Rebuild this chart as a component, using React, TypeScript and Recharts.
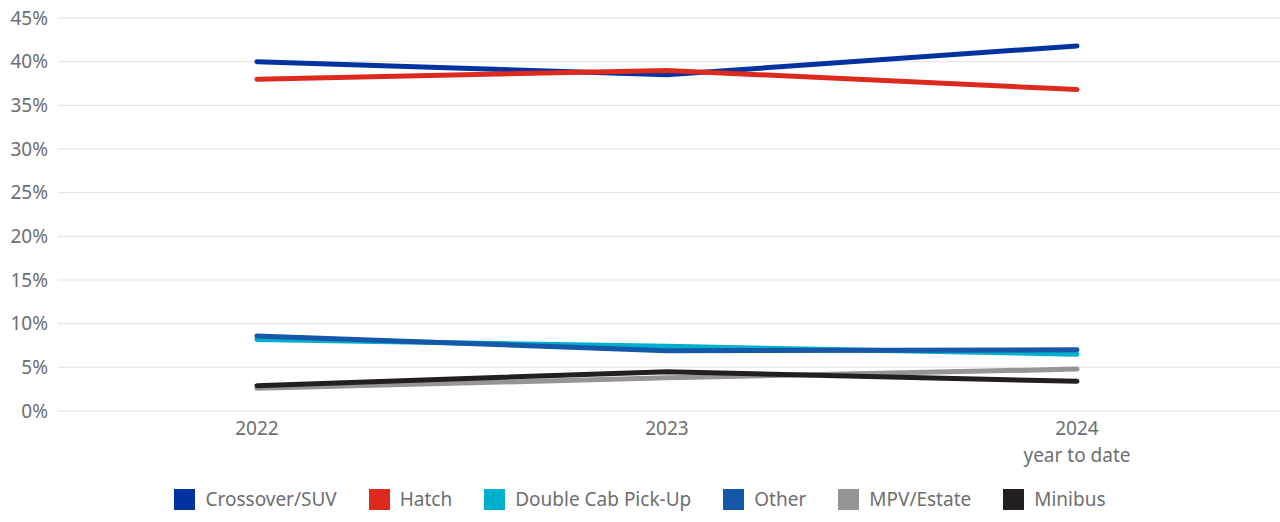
import { LineChart, Line, XAxis, YAxis, CartesianGrid, Legend } from 'recharts';

const years = ['2022', '2023', '2024\nyear to date'];
const crossover = [40.0, 38.5, 41.8];
const hatch = [38.0, 39.0, 36.8];
const doubleCab = [8.2, 7.4, 6.5];
const other = [8.6, 6.9, 7.0];
const mpv = [2.6, 3.8, 4.8];
const minibus = [2.9, 4.5, 3.4];
const yTicks = [0, 5, 10, 15, 20, 25, 30, 35, 40, 45];

const series = [
  { key: 'crossover', name: 'Crossover/SUV', color: '#0033a0' },
  { key: 'hatch', name: 'Hatch', color: '#dd2a1f' },
  { key: 'doubleCab', name: 'Double Cab Pick-Up', color: '#00afcc' },
  { key: 'other', name: 'Other', color: '#1557a8' },
  { key: 'mpv', name: 'MPV/Estate', color: '#959598' },
  { key: 'minibus', name: 'Minibus', color: '#231f20' },
];

const data = years.map((year, i) => ({
  year,
  crossover: crossover[i],
  hatch: hatch[i],
  doubleCab: doubleCab[i],
  other: other[i],
  mpv: mpv[i],
  minibus: minibus[i],
}));

const FONT = '"Source Sans Pro", "Noto Sans", sans-serif';
const TEXT = '#6d6e71';

function YearTick({ x, y, payload }: any) {
  const lines = String(payload.value).split('\n');
  return (
    <text x={x} y={y} textAnchor="middle" fill={TEXT} fontSize={19} fontFamily={FONT}>
      {lines.map((l, i) => (
        <tspan key={i} x={x} dy={i === 0 ? 16 : 27}>
          {l}
        </tspan>
      ))}
    </text>
  );
}

function LegendBox() {
  return (
    <div style={{ display: 'flex', justifyContent: 'center', gap: 32, fontFamily: FONT, fontSize: 19, color: TEXT }}>
      {series.map((s) => (
        <div key={s.key} style={{ display: 'flex', alignItems: 'center' }}>
          <span style={{ width: 21, height: 21, background: s.color, marginRight: 10, display: 'inline-block' }} />
          <span>{s.name}</span>
        </div>
      ))}
    </div>
  );
}

export default function App() {
  return (
    <div style={{ position: 'absolute', left: 0, top: 0, background: '#fff' }}>
      <LineChart width={1280} height={522} data={data} margin={{ top: 18, right: 0, left: 0, bottom: 0 }}>
        <CartesianGrid vertical={false} stroke="#e1e1e1" strokeWidth={1} />
        <XAxis
          dataKey="year"
          axisLine={false}
          tickLine={false}
          tick={<YearTick />}
          padding={{ left: 199, right: 203 }}
          height={85}
          interval={0}
        />
        <YAxis
          domain={[0, 45]}
          ticks={yTicks}
          axisLine={false}
          tickLine={false}
          width={58}
          tickFormatter={(v) => `${v}%`}
          tick={{ fill: TEXT, fontSize: 19, fontFamily: FONT, dx: -2 }}
        />
        <Legend verticalAlign="bottom" content={<LegendBox />} wrapperStyle={{ bottom: 10 }} />
        {series.map((s) => (
          <Line
            key={s.key}
            dataKey={s.key}
            name={s.name}
            stroke={s.color}
            strokeWidth={5}
            strokeLinecap="round"
            dot={false}
            activeDot={false}
            type="linear"
            isAnimationActive={false}
          />
        ))}
      </LineChart>
    </div>
  );
}
